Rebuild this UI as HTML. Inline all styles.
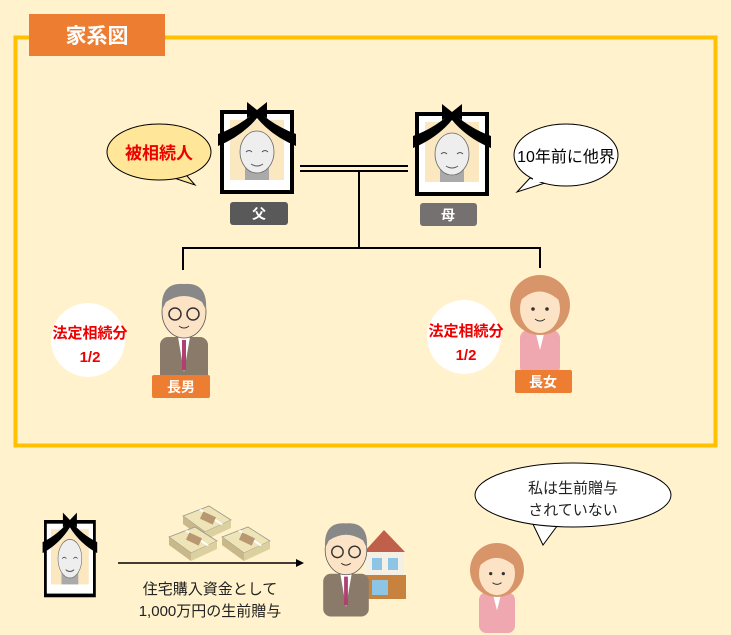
<!DOCTYPE html>
<html><head><meta charset="utf-8"><style>
html,body{margin:0;padding:0;background:#fff2cc;}
svg{display:block;font-family:"Liberation Sans","Noto Sans CJK JP",sans-serif;}
</style></head><body>
<svg width="731" height="635" viewBox="0 0 731 635" xmlns="http://www.w3.org/2000/svg">
<defs>
<g id="frame">
 <rect x="0" y="0" width="74" height="84" fill="#000"/>
 <rect x="4" y="4" width="66" height="76" fill="#fff"/>
 <rect x="10" y="10" width="54" height="60" fill="#fbe8c0"/>
 <rect x="25" y="56" width="24" height="14" fill="#aaa"/>
 <ellipse cx="37" cy="42" rx="17" ry="21" fill="#eee" stroke="#666" stroke-width="0.8"/>
 <path d="M26 42 q3 -3 6 0 M42 42 q3 -3 6 0" stroke="#555" fill="none"/>
 <path d="M31 54 q6 4 12 0" stroke="#555" fill="none"/>
 <path d="M37 0 Q20 16 -2 24 L-2 36 Q22 26 37 8 Q52 26 76 36 L76 24 Q54 16 37 0 Z" fill="#000"/>
 <path d="M27 -8 L37 0 L47 -8 L47 8 L37 2 L27 8 Z" fill="#000"/>
</g>
<g id="man">
 <rect x="-24" y="25" width="48" height="45" rx="8" fill="#8a7a6a"/>
 <path d="M-6 25 L0 60 L6 25 Z" fill="#fff"/>
 <rect x="-2" y="28" width="4" height="30" fill="#b04070"/>
 <ellipse cx="0" cy="0" rx="22" ry="26" fill="#fde3c5" stroke="#555" stroke-width="0.8"/>
 <path d="M-22 -2 Q-24 -30 0 -28 Q24 -30 22 -2 L18 -10 Q0 -22 -18 -10 Z" fill="#888"/>
 <circle cx="-9" cy="2" r="6" fill="none" stroke="#333" stroke-width="1.5"/>
 <circle cx="9" cy="2" r="6" fill="none" stroke="#333" stroke-width="1.5"/>
 <path d="M-5 14 q5 4 10 0" stroke="#333" fill="none"/>
</g>
<g id="woman">
 <rect x="-20" y="25" width="40" height="45" rx="8" fill="#f0a8b0"/>
 <path d="M-5 25 L0 45 L5 25 Z" fill="#fff"/>
 <ellipse cx="0" cy="0" rx="30" ry="30" fill="#d9956a"/>
 <ellipse cx="0" cy="4" rx="20" ry="24" fill="#fde3c5"/>
 <path d="M-20 -4 Q0 -24 22 -2 L22 -20 Q0 -36 -22 -18 Z" fill="#d9956a"/>
 <circle cx="-7" cy="4" r="1.8" fill="#333"/><circle cx="7" cy="4" r="1.8" fill="#333"/>
 <path d="M-5 14 q5 4 10 0" stroke="#333" fill="none"/>
</g>
<g id="money">
 <path d="M0 10 L26 0 L48 14 L22 26 Z" fill="#efe3b8" stroke="#998" stroke-width="0.8"/>
 <path d="M0 10 L22 26 L22 34 L0 18 Z" fill="#c9b98a"/>
 <path d="M22 26 L48 14 L48 22 L22 34 Z" fill="#ddd0a0"/>
 <path d="M16 4 L38 19 L40 18 L18 3 Z" fill="#fff"/>
 <rect x="18" y="8" width="14" height="8" fill="#b89870" transform="rotate(25 25 12)"/>
</g>
</defs>

<rect x="15.5" y="37.5" width="700" height="408" fill="none" stroke="#ffc000" stroke-width="4"/>
<rect x="29" y="14" width="136" height="42" fill="#ed7d31"/>
<text x="97" y="43" font-size="21" font-weight="bold" fill="#fff" text-anchor="middle">家系図</text>

<path d="M168 176 L195 185 L180 168 Z" fill="#ffe699" stroke="#000"/>
<ellipse cx="159" cy="152" rx="52" ry="28" fill="#ffe699" stroke="#000"/>
<path d="M170 168 L182 170" stroke="#ffe699" stroke-width="4"/>
<text x="159" y="159" font-size="17" font-weight="bold" fill="#e00" text-anchor="middle">被相続人</text>

<path d="M530 178 L517 192 L545 183 Z" fill="#fff" stroke="#000"/>
<ellipse cx="566" cy="155" rx="52" ry="31" fill="#fff" stroke="#000"/>
<path d="M533 180 L544 180" stroke="#fff" stroke-width="4"/>
<text x="566" y="162" font-size="16" fill="#000" text-anchor="middle">10年前に他界</text>

<use href="#frame" x="220" y="110"/>
<use href="#frame" x="415" y="112"/>

<rect x="230" y="202" width="58" height="23" rx="3" fill="#595959"/>
<text x="259" y="219" font-size="14" font-weight="bold" fill="#fff" text-anchor="middle">父</text>
<rect x="420" y="203" width="57" height="23" rx="3" fill="#767171"/>
<text x="448" y="220" font-size="14" font-weight="bold" fill="#fff" text-anchor="middle">母</text>

<g stroke="#000" stroke-width="2" fill="none">
 <line x1="300" y1="166" x2="408" y2="166"/>
 <line x1="300" y1="171" x2="408" y2="171"/>
 <line x1="359" y1="171" x2="359" y2="248"/>
 <line x1="183" y1="248" x2="541" y2="248"/>
 <line x1="183" y1="247" x2="183" y2="270"/>
 <line x1="540" y1="247" x2="540" y2="268"/>
</g>

<use href="#man" x="184" y="312"/>
<use href="#woman" x="540" y="305"/>

<circle cx="88" cy="340" r="37" fill="#fff"/>
<text x="90" y="338" font-size="15" font-weight="bold" fill="#e00" text-anchor="middle">法定相続分</text>
<text x="90" y="362" font-size="15" font-weight="bold" fill="#e00" text-anchor="middle">1/2</text>
<circle cx="464" cy="337" r="37" fill="#fff"/>
<text x="466" y="336" font-size="15" font-weight="bold" fill="#e00" text-anchor="middle">法定相続分</text>
<text x="466" y="360" font-size="15" font-weight="bold" fill="#e00" text-anchor="middle">1/2</text>

<rect x="152" y="375" width="58" height="23" rx="2" fill="#ed7d31"/>
<text x="181" y="392" font-size="14" font-weight="bold" fill="#fff" text-anchor="middle">長男</text>
<rect x="515" y="370" width="57" height="23" rx="2" fill="#ed7d31"/>
<text x="543" y="387" font-size="14" font-weight="bold" fill="#fff" text-anchor="middle">長女</text>

<g transform="translate(44,520) scale(0.7,0.92)"><use href="#frame"/></g>
<line x1="118" y1="563" x2="298" y2="563" stroke="#000" stroke-width="1.5"/>
<path d="M304 563 L296 559 L296 567 Z" fill="#000"/>
<text x="210" y="594" font-size="15" fill="#222" text-anchor="middle">住宅購入資金として</text>
<text x="210" y="616" font-size="15" fill="#222" text-anchor="middle">1,000万円の生前贈与</text>

<use href="#money" x="183" y="506"/>
<use href="#money" x="169" y="527"/>
<use href="#money" x="222" y="527"/>

<path d="M364 552 L384 530 L405 552 Z" fill="#c0604a"/>
<rect x="366" y="552" width="38" height="46" fill="#f5f0e6"/>
<rect x="362" y="575" width="44" height="24" fill="#c7833e"/>
<rect x="372" y="558" width="10" height="12" fill="#8cc5e6"/>
<rect x="388" y="558" width="10" height="12" fill="#8cc5e6"/>
<rect x="372" y="580" width="16" height="15" fill="#8cc5e6"/>
<use href="#man" x="346" y="550" transform="translate(346,550) scale(0.95) translate(-346,-550)"/>

<use href="#woman" x="497" y="570" transform="translate(497,570) scale(0.9) translate(-497,-570)"/>

<path d="M530 518 L543 545 L560 522 Z" fill="#fff" stroke="#000"/>
<ellipse cx="573" cy="495" rx="98" ry="32" fill="#fff" stroke="#000"/>
<path d="M534 522 L556 522" stroke="#fff" stroke-width="4"/>
<text x="573" y="493" font-size="15" fill="#222" text-anchor="middle">私は生前贈与</text>
<text x="573" y="515" font-size="15" fill="#222" text-anchor="middle">されていない</text>
</svg>
</body></html>
